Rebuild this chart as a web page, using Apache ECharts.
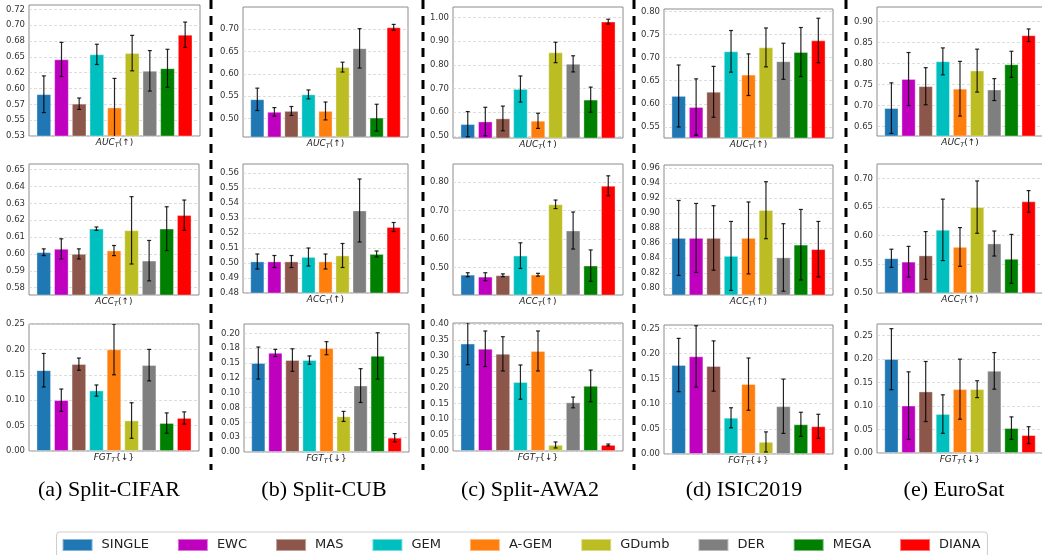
<!DOCTYPE html>
<html>
<head>
<meta charset="utf-8">
<script src="https://cdn.jsdelivr.net/npm/echarts@6/dist/echarts.min.js"></script>
<style>
  html, body { margin: 0; padding: 0; background: #fff; }
  #chart { width: 1042px; height: 555px; }
</style>
</head>
<body>
<div id="chart"></div>
<script>
const methods = ['SINGLE', 'EWC', 'MAS', 'GEM', 'A-GEM', 'GDumb', 'DER', 'MEGA', 'DIANA'];
const captions = ['(a) Split-CIFAR', '(b) Split-CUB', '(c) Split-AWA2', '(d) ISIC2019', '(e) EuroSat'];

// (a) Split-CIFAR
const cifarAuc    = [0.591, 0.646, 0.576, 0.654, 0.570, 0.656, 0.628, 0.632, 0.685];
const cifarAucErr = [0.029, 0.027, 0.009, 0.016, 0.046, 0.028, 0.032, 0.030, 0.020];
const cifarAcc    = [0.601, 0.603, 0.600, 0.615, 0.602, 0.614, 0.596, 0.615, 0.623];
const cifarAccErr = [0.002, 0.006, 0.003, 0.001, 0.003, 0.020, 0.012, 0.013, 0.009];
const cifarFgt    = [0.159, 0.100, 0.171, 0.119, 0.200, 0.060, 0.169, 0.055, 0.065];
const cifarFgtErr = [0.033, 0.022, 0.012, 0.011, 0.050, 0.035, 0.031, 0.020, 0.012];
// (b) Split-CUB
const cubAuc    = [0.543, 0.515, 0.517, 0.554, 0.517, 0.615, 0.657, 0.502, 0.704];
const cubAucErr = [0.025, 0.0095, 0.010, 0.010, 0.020, 0.011, 0.044, 0.030, 0.0065];
const cubAcc    = [0.501, 0.501, 0.501, 0.504, 0.501, 0.505, 0.535, 0.506, 0.524];
const cubAccErr = [0.005, 0.004, 0.004, 0.006, 0.005, 0.008, 0.021, 0.002, 0.003];
const cubFgt    = [0.150, 0.167, 0.155, 0.155, 0.175, 0.060, 0.112, 0.162, 0.024];
const cubFgtErr = [0.027, 0.006, 0.019, 0.007, 0.011, 0.0085, 0.0285, 0.039, 0.007];
// (c) Split-AWA2
const awaAuc    = [0.550, 0.561, 0.574, 0.698, 0.564, 0.852, 0.804, 0.653, 0.982];
const awaAucErr = [0.053, 0.060, 0.052, 0.055, 0.032, 0.043, 0.034, 0.053, 0.010];
const awaAcc    = [0.475, 0.468, 0.473, 0.542, 0.475, 0.722, 0.630, 0.507, 0.787];
const awaAccErr = [0.007, 0.014, 0.005, 0.045, 0.005, 0.015, 0.065, 0.055, 0.035];
const awaFgt    = [0.338, 0.322, 0.306, 0.217, 0.315, 0.019, 0.153, 0.205, 0.019];
const awaFgtErr = [0.066, 0.056, 0.054, 0.054, 0.063, 0.0095, 0.017, 0.050, 0.003];
// (d) ISIC2019
const isicAuc    = [0.617, 0.593, 0.626, 0.7135, 0.663, 0.722, 0.692, 0.712, 0.737];
const isicAucErr = [0.067, 0.061, 0.055, 0.045, 0.045, 0.042, 0.039, 0.053, 0.048];
const isicAcc    = [0.867, 0.867, 0.867, 0.843, 0.867, 0.904, 0.841, 0.858, 0.852];
const isicAccErr = [0.050, 0.046, 0.043, 0.046, 0.048, 0.038, 0.045, 0.047, 0.037];
const isicFgt    = [0.177, 0.194, 0.175, 0.072, 0.139, 0.024, 0.095, 0.059, 0.055];
const isicFgtErr = [0.053, 0.061, 0.050, 0.020, 0.052, 0.020, 0.054, 0.024, 0.024];
// (e) EuroSat
const eurosatAuc    = [0.694, 0.763, 0.746, 0.805, 0.740, 0.783, 0.738, 0.798, 0.867];
const eurosatAucErr = [0.060, 0.063, 0.044, 0.032, 0.065, 0.051, 0.026, 0.031, 0.015];
const eurosatAcc    = [0.560, 0.554, 0.565, 0.610, 0.580, 0.650, 0.586, 0.559, 0.660];
const eurosatAccErr = [0.016, 0.027, 0.042, 0.054, 0.034, 0.046, 0.022, 0.043, 0.019];
const eurosatFgt    = [0.200, 0.101, 0.131, 0.083, 0.136, 0.136, 0.175, 0.053, 0.038];
const eurosatFgtErr = [0.065, 0.072, 0.064, 0.041, 0.064, 0.018, 0.039, 0.024, 0.018];

// tick values and labels
const cifarAucTicks  = [0.525, 0.55, 0.575, 0.6, 0.625, 0.65, 0.675, 0.7, 0.725];
const cifarAucLabels = ['0.53', '0.55', '0.57', '0.60', '0.62', '0.65', '0.68', '0.70', '0.72'];
const cifarAccTicks  = [0.58, 0.59, 0.60, 0.61, 0.62, 0.63, 0.64, 0.65];
const cifarFgtTicks  = [0, 0.05, 0.10, 0.15, 0.20, 0.25];
const cubAucTicks    = [0.50, 0.55, 0.60, 0.65, 0.70];
const cubAccTicks    = [0.48, 0.49, 0.50, 0.51, 0.52, 0.53, 0.54, 0.55, 0.56];
const cubFgtTicks    = [0, 0.025, 0.05, 0.075, 0.10, 0.125, 0.15, 0.175, 0.20];
const cubFgtLabels   = ['0.00', '0.03', '0.05', '0.08', '0.10', '0.12', '0.15', '0.18', '0.20'];
const awaAucTicks    = [0.5, 0.6, 0.7, 0.8, 0.9, 1.0];
const awaAccTicks    = [0.5, 0.6, 0.7, 0.8];
const awaFgtTicks    = [0, 0.05, 0.10, 0.15, 0.20, 0.25, 0.30, 0.35, 0.40];
const isicAucTicks   = [0.55, 0.60, 0.65, 0.70, 0.75, 0.80];
const isicAccTicks   = [0.80, 0.82, 0.84, 0.86, 0.88, 0.90, 0.92, 0.94, 0.96];
const isicFgtTicks   = [0, 0.05, 0.10, 0.15, 0.20, 0.25];
const eurosatAucTicks = [0.65, 0.70, 0.75, 0.80, 0.85, 0.90];
const eurosatAccTicks = [0.50, 0.55, 0.60, 0.65, 0.70];
const eurosatFgtTicks = [0, 0.05, 0.10, 0.15, 0.20, 0.25];

const colors = ['#1f77b4', '#bf00bf', '#8c564b', '#00bfbf', '#ff7f0e', '#bcbd22', '#7f7f7f', '#008000', '#ff0000'];

// panel layout: box = [left, top, right, bottom]
const panels = [
  { v: cifarAuc, e: cifarAucErr, ticks: cifarAucTicks, labels: cifarAucLabels, min: 0.525, max: 0.732, m: 'AUC', box: [29, 5, 200, 136] },
  { v: cifarAcc, e: cifarAccErr, ticks: cifarAccTicks, min: 0.5756, max: 0.6534, m: 'ACC', box: [29, 164, 199, 295] },
  { v: cifarFgt, e: cifarFgtErr, ticks: cifarFgtTicks, min: 0, max: 0.25, m: 'FGT', box: [29, 324, 199, 451] },
  { v: cubAuc, e: cubAucErr, ticks: cubAucTicks, min: 0.4588, max: 0.7494, m: 'AUC', box: [243, 7, 408, 137] },
  { v: cubAcc, e: cubAccErr, ticks: cubAccTicks, min: 0.48, max: 0.566, m: 'ACC', box: [243, 164, 408, 293] },
  { v: cubFgt, e: cubFgtErr, ticks: cubFgtTicks, labels: cubFgtLabels, min: 0, max: 0.2158, m: 'FGT', box: [244, 324, 409, 452] },
  { v: awaAuc, e: awaAucErr, ticks: awaAucTicks, min: 0.4916, max: 1.0435, m: 'AUC', box: [453, 7, 623, 138] },
  { v: awaAcc, e: awaAccErr, ticks: awaAccTicks, min: 0.4039, max: 0.8634, m: 'ACC', box: [453, 164, 623, 295] },
  { v: awaFgt, e: awaFgtErr, ticks: awaFgtTicks, min: 0, max: 0.4032, m: 'FGT', box: [453, 323, 623, 451] },
  { v: isicAuc, e: isicAucErr, ticks: isicAucTicks, min: 0.5262, max: 0.805, m: 'AUC', box: [664, 9, 833, 138] },
  { v: isicAcc, e: isicAccErr, ticks: isicAccTicks, min: 0.7909, max: 0.9643, m: 'ACC', box: [664, 165, 833, 295] },
  { v: isicFgt, e: isicFgtErr, ticks: isicFgtTicks, min: 0, max: 0.2566, m: 'FGT', box: [664, 325, 833, 454] },
  { v: eurosatAuc, e: eurosatAucErr, ticks: eurosatAucTicks, min: 0.6278, max: 0.9341, m: 'AUC', box: [877, 7, 1043, 136] },
  { v: eurosatAcc, e: eurosatAccErr, ticks: eurosatAccTicks, min: 0.499, max: 0.7258, m: 'ACC', box: [877, 164, 1043, 293] },
  { v: eurosatFgt, e: eurosatFgtErr, ticks: eurosatFgtTicks, min: 0, max: 0.2749, m: 'FGT', box: [877, 324, 1043, 453] }
];

const chart = echarts.init(document.getElementById('chart'));

const nameRich = {
  i: { fontFamily: 'DejaVu Sans', fontSize: 9, fontStyle: 'italic', color: '#222', lineHeight: 12 },
  s: { fontFamily: 'DejaVu Sans', fontSize: 6.5, fontStyle: 'italic', color: '#222', lineHeight: 9, padding: [4, 0, 0, 0], verticalAlign: 'bottom' },
  u: { fontFamily: 'DejaVu Sans', fontSize: 9, color: '#222', lineHeight: 12 }
};

const grids = [], xAxes = [], yAxes = [], series = [];

panels.forEach((p, k) => {
  const [l, t, r, b] = p.box;
  const w = r - l;
  grids.push({
    left: l, top: t, width: w, height: b - t,
    show: true, borderColor: '#8c8c8c', borderWidth: 1,
    containLabel: false, outerBoundsMode: 'none'
  });
  const nm = p.m === 'FGT' ? '{i|FGT}{s|T}{↓}' : '{i|' + p.m + '}{s|T}{u|(↑)}';
  xAxes.push({
    type: 'value', gridIndex: k, min: -0.84, max: 8.84,
    axisLine: { show: false }, axisTick: { show: false },
    axisLabel: { show: false }, splitLine: { show: false },
    name: nm, nameLocation: 'middle', nameGap: 1,
    nameTextStyle: { fontFamily: 'DejaVu Sans', fontSize: 9, color: '#222', rich: nameRich }
  });
  const labs = p.labels || p.ticks.map(v => v.toFixed(2));
  yAxes.push({
    type: 'value', gridIndex: k, min: p.min, max: p.max,
    axisLine: { show: false },
    axisTick: { show: false, customValues: p.ticks },
    axisLabel: {
      customValues: p.ticks, margin: 4,
      fontFamily: 'DejaVu Sans', fontSize: 8.5, color: '#333',
      formatter: v => {
        const i = p.ticks.findIndex(tv => Math.abs(tv - v) < 1e-6);
        return i >= 0 ? labs[i] : '';
      }
    },
    splitLine: { show: true, lineStyle: { color: '#d4d4d4', width: 0.8, type: [3, 2] } }
  });
  const bw = 0.82 * w / 9.68;
  methods.forEach((name, i) => {
    series.push({
      type: 'bar', name: name, xAxisIndex: k, yAxisIndex: k,
      data: [[i, p.v[i]]], barWidth: bw, barGap: '-100%',
      itemStyle: { color: colors[i], borderColor: 'rgba(255,255,255,0.45)', borderWidth: 0.8 },
      animation: false, z: 2
    });
  });
  series.push({
    type: 'custom', xAxisIndex: k, yAxisIndex: k, clip: true, z: 3, animation: false,
    data: p.v.map((v, i) => [i, v - p.e[i], v + p.e[i]]),
    encode: { x: 0, y: [1, 2] },
    renderItem: (params, api) => {
      const top = api.coord([api.value(0), api.value(2)]);
      const bot = api.coord([api.value(0), api.value(1)]);
      const c = 2;
      const st = { stroke: 'rgba(0,0,0,0.85)', lineWidth: 1.2 };
      return {
        type: 'group', children: [
          { type: 'line', shape: { x1: top[0], y1: top[1], x2: bot[0], y2: bot[1] }, style: st },
          { type: 'line', shape: { x1: top[0] - c, y1: top[1], x2: top[0] + c, y2: top[1] }, style: st },
          { type: 'line', shape: { x1: bot[0] - c, y1: bot[1], x2: bot[0] + c, y2: bot[1] }, style: st }
        ]
      };
    }
  });
});

const captionX = [109, 324, 530, 744, 954];
const sepX = [211, 423, 634, 846];
const graphics = [];
sepX.forEach(x => graphics.push({
  type: 'line', shape: { x1: x, y1: 0, x2: x, y2: 470 },
  style: { stroke: '#000', lineWidth: 3, lineDash: [9, 7] }, silent: true
}));
captions.forEach((c, i) => graphics.push({
  type: 'text', x: captionX[i], y: 490,
  style: {
    text: c, fontFamily: 'Liberation Serif', fontSize: 22, fill: '#000',
    textAlign: 'center', textVerticalAlign: 'middle', align: 'center', verticalAlign: 'middle'
  }
}));

chart.setOption({
  animation: false,
  backgroundColor: '#fff',
  grid: grids,
  xAxis: xAxes,
  yAxis: yAxes,
  series: series,
  legend: {
    data: methods, left: 'center', top: 532,
    icon: 'rect', itemWidth: 30, itemHeight: 12, itemGap: 28,
    padding: [6, 7, 8, 5],
    borderColor: '#cccccc', borderWidth: 1, borderRadius: 3,
    textStyle: { fontFamily: 'DejaVu Sans', fontSize: 13, color: '#222', padding: [0, 0, 0, 4] },
    selectedMode: false
  },
  graphic: graphics
});
</script>
</body>
</html>
